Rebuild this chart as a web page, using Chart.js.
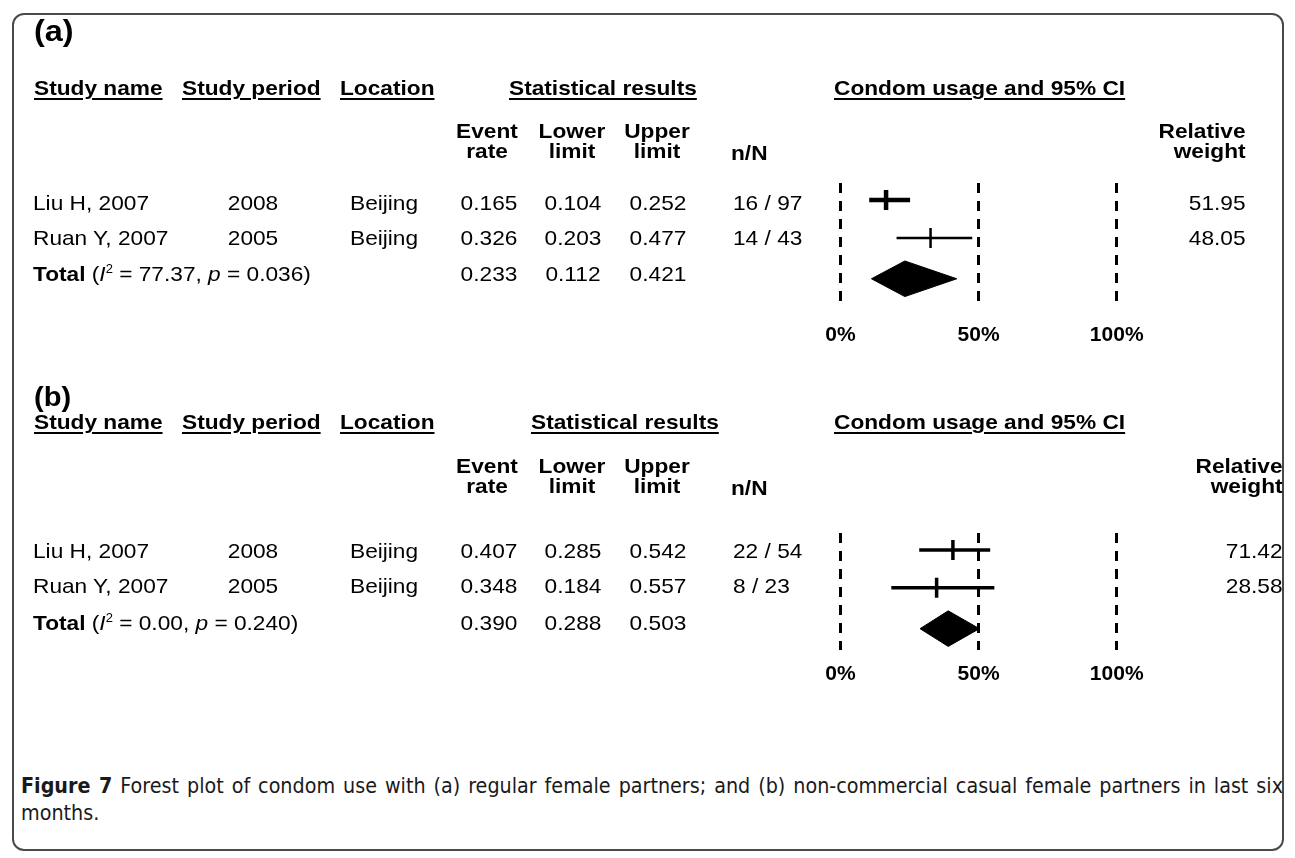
<!DOCTYPE html>
<html>
<head>
<meta charset="utf-8">
<script src="https://cdn.jsdelivr.net/npm/chart.js@4.4.0/dist/chart.umd.min.js"></script>
<style>
  body { margin: 0; background: #fff; }
  #page { position: relative; width: 1295px; height: 858px; overflow: hidden; color: #000;
          font-family: "Liberation Sans", Arial, sans-serif; }
  #frame { position: absolute; left: 12px; top: 13px; width: 1268px; height: 834px;
           border: 2px solid #4a4a4a; border-radius: 12px; }
  canvas { position: absolute; left: 0; }
  .t { position: absolute; white-space: nowrap; font-size: 21px; line-height: 24px; }
  .h { font-weight: bold; }
  .sub { line-height: 20px; }
  .u { text-decoration: underline; text-underline-offset: 3px; text-decoration-thickness: 2px; }
  sup { font-size: 12px; line-height: 0; }
  #caption { position: absolute; left: 21px; width: 1262px; top: 772px; color: #1a1a1a;
             font-family: "DejaVu Sans Condensed", "Liberation Sans Narrow", "Open Sans", sans-serif;
             font-size: 16px; line-height: 27px; }
</style>
</head>
<body>
<div id="page">
  <div id="frame"></div>
  <canvas id="chart_a" width="1295" height="360" style="top:0"></canvas>
  <canvas id="chart_b" width="1295" height="360" style="top:350px"></canvas>
  <div id="caption">
    <div id="capline"><b>Figure 7</b> Forest plot of condom use with (a) regular female partners; and (b) non-commercial casual female partners in last six</div>
    <div>months.</div>
  </div>
</div>
<script>
// studies (same two in both panels)
const studies = ["Liu H, 2007", "Ruan Y, 2007"];
const periods = ["2008", "2005"];
const locations = ["Beijing", "Beijing"];

// (a) regular female partners
const rateA = [0.165, 0.326];
const lowerA = [0.104, 0.203];
const upperA = [0.252, 0.477];
const nNA = ["16 / 97", "14 / 43"];
const weightA = [51.95, 48.05];
const totalA = [0.233, 0.112, 0.421]; // rate, lower, upper
const hetA = ["77.37", "0.036"];      // I2, p

// (b) non-commercial casual female partners
const rateB = [0.407, 0.348];
const lowerB = [0.285, 0.184];
const upperB = [0.542, 0.557];
const nNB = ["22 / 54", "8 / 23"];
const weightB = [71.42, 28.58];
const totalB = [0.390, 0.288, 0.503];
const hetB = ["0.00", "0.240"];

const xTicks = [0, 0.5, 1];

const page = document.getElementById("page");

// caption: size the font so the first line fills the width, then justify it
const capline = document.getElementById("capline");
capline.style.display = "inline-block";
capline.style.whiteSpace = "nowrap";
const natural = capline.getBoundingClientRect().width;
document.getElementById("caption").style.fontSize = (16 * 1225 / natural) + "px";
capline.style.display = "block";
capline.style.textAlign = "justify";
capline.style.textAlignLast = "justify";

function put(html, x, y, align, cls) {
  const el = document.createElement("div");
  el.className = "t " + (cls || "");
  el.innerHTML = html;
  el.style.top = (y - 12) + "px";
  const sx = "scaleX(1.08)";
  if (align === "right") {
    el.style.right = (1295 - x) + "px";
    el.style.textAlign = "right";
    el.style.transformOrigin = "right";
    el.style.transform = sx;
  } else if (align === "center") {
    el.style.left = x + "px";
    el.style.textAlign = "center";
    el.style.transformOrigin = "center";
    el.style.transform = "translateX(-50%) " + sx;
  } else {
    el.style.left = x + "px";
    el.style.transformOrigin = "left";
    el.style.transform = sx;
  }
  page.appendChild(el);
  return el;
}

function table(p) {
  const lab = put(p.label, 34, p.labelY, "left", "h");
  lab.style.fontSize = p.labelSize + "px";
  lab.style.lineHeight = "30px";
  lab.style.top = (p.labelY - 15) + "px";

  put("Study name", 34, p.headY, "left", "h u");
  put("Study period", 182, p.headY, "left", "h u");
  put("Location", 340, p.headY, "left", "h u");
  put("Statistical results", p.statX, p.headY, "left", "h u");
  put("Condom usage and 95% CI", 834, p.headY, "left", "h u");

  put("Event<br>rate", 487, p.subY, "center", "h sub");
  put("Lower<br>limit", 572, p.subY, "center", "h sub");
  put("Upper<br>limit", 657, p.subY, "center", "h sub");
  put("n/N", 731, p.subY + 20, "left", "h");
  put("Relative<br>weight", p.rightX, p.subY, "right", "h sub");

  p.rate.forEach((v, i) => {
    const y = p.rowY[i];
    put(studies[i], 33, y, "left");
    put(periods[i], 253, y, "center");
    put(locations[i], 350, y, "left");
    put(v.toFixed(3), 489, y, "center");
    put(p.lower[i].toFixed(3), 573, y, "center");
    put(p.upper[i].toFixed(3), 658, y, "center");
    put(p.nN[i], 733, y, "left");
    put(p.weight[i].toFixed(2), p.rightX, y, "right");
  });
  const ty = p.totalY;
  put("<b>Total</b> (<i>I</i><sup>2</sup> = " + p.het[0] + ", <i>p</i> = " + p.het[1] + ")", 33, ty, "left");
  put(p.total[0].toFixed(3), 489, ty, "center");
  put(p.total[1].toFixed(3), 573, ty, "center");
  put(p.total[2].toFixed(3), 658, ty, "center");
}

function forest(id, p) {
  const datasets = [];
  p.rate.forEach((v, i) => {
    datasets.push({
      data: [{ x: p.lower[i], y: i }, { x: p.upper[i], y: i }],
      showLine: true, borderColor: "#000", borderWidth: p.widths[i], pointRadius: 0
    });
    datasets.push({
      data: [{ x: v, y: i }],
      pointStyle: "line", rotation: 90, pointRadius: 10,
      pointBorderColor: "#000", pointBorderWidth: p.widths[i]
    });
  });
  const ty = p.rate.length + 0.08;
  const h = 0.47;
  datasets.push({
    data: [
      { x: p.total[1], y: ty }, { x: p.total[0], y: ty - h },
      { x: p.total[2], y: ty }, { x: p.total[0], y: ty + h },
      { x: p.total[1], y: ty }
    ],
    showLine: true, fill: "shape", backgroundColor: "#000", borderColor: "#000",
    borderWidth: 1, pointRadius: 0
  });

  new Chart(document.getElementById(id), {
    type: "scatter",
    data: { datasets },
    options: {
      responsive: false,
      animation: false,
      events: [],
      layout: { padding: { left: 840.5, right: 178.3, top: 183, bottom: p.padBottom } },
      plugins: { legend: { display: false }, tooltip: { enabled: false } },
      scales: {
        x: {
          type: "linear", min: 0, max: 1,
          afterBuildTicks: s => { s.ticks = xTicks.map(v => ({ value: v })); },
          afterFit: s => { s.height = p.axisH; },
          grid: { color: "#000", lineWidth: 3, drawTicks: false },
          border: { display: false, dash: [10, 8] },
          ticks: {
            padding: p.tickPad, color: "#000", maxRotation: 0, autoSkip: false,
            font: { family: "Liberation Sans", size: 21, weight: "bold" },
            callback: v => Math.round(v * 100) + "%"
          }
        },
        y: { type: "linear", display: false, reverse: true, min: -0.45, max: p.yMax }
      }
    }
  });
}

const panelA = {
  label: "(a)", labelY: 31, labelSize: 30, headY: 88, subY: 133, rowY: [203, 238], totalY: 274,
  statX: 509, rightX: 1246,
  rate: rateA, lower: lowerA, upper: upperA, nN: nNA, weight: weightA, total: totalA, het: hetA,
  widths: [4.5, 2.5], padBottom: 13, axisH: 44, tickPad: 20, yMax: 2.72
};
const panelB = {
  label: "(b)", labelY: 397, labelSize: 27, headY: 422, subY: 468, rowY: [551, 586], totalY: 623,
  statX: 531, rightX: 1283,
  rate: rateB, lower: lowerB, upper: upperB, nN: nNB, weight: weightB, total: totalB, het: hetB,
  widths: [3.5, 3.5], padBottom: 24, axisH: 36, tickPad: 11.5, yMax: 2.645
};

table(panelA);
table(panelB);
forest("chart_a", panelA);
forest("chart_b", panelB);
</script>
</body>
</html>
